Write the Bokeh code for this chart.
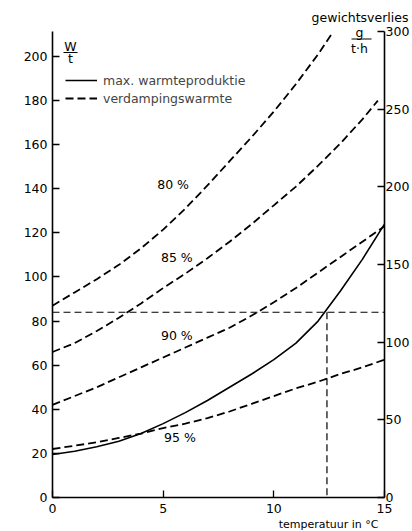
from bokeh.plotting import figure
from bokeh.models import (Range1d, LinearAxis, FixedTicker, Label, Legend,
                          LegendItem, BoxAnnotation, Title)
from bokeh.embed import file_html
from bokeh.resources import INLINE

# ---- data ----
temp = [0, 1, 2, 3, 4, 5, 6, 7, 8, 9, 10, 11, 12, 13, 14, 15]
max_warmte = [19.5, 21, 23, 25.5, 29, 33.5, 38.5, 44, 50, 56, 62.5, 70, 80, 93.5, 108, 124]

temp_80 = [0, 1, 2, 3, 4, 5, 6, 7, 8, 9, 10, 11, 12, 12.6]
rh_80 = [87, 93, 99, 105.5, 113, 121.5, 131, 141.5, 152.5, 163.5, 175, 187.5, 201, 210]

temp_85 = [0, 1, 2, 3, 4, 5, 6, 7, 8, 9, 10, 11, 12, 13, 14, 14.7]
rh_85 = [66, 70, 75.5, 81.5, 88, 95, 101.5, 108.5, 116, 124, 132.5, 141, 150.5, 160.5, 171.5, 180]

rh_90 = [42, 46, 50, 54.5, 59, 63.5, 68, 72.5, 77, 82.5, 88.5, 95, 102, 109, 116, 123]
rh_95 = [22, 23.5, 25, 27, 29, 31.5, 33.5, 36, 39, 42.5, 46, 49.5, 52.5, 56, 59, 62.5]

rh_labels = ["80 %", "85 %", "90 %", "95 %"]
rh_label_x = [4.73, 4.9, 4.9, 5.04]
rh_label_y = [142, 109, 73.6, 27]

ref_level = 84        # W/t
ref_temp = 12.4       # degC
x_range = (0, 15)
left_axis_top = 211.3
right_axis_top = 300
left_range = (0, 214.5)
right_range = (0, 304.5)
x_ticks = [0, 5, 10, 15]
left_ticks = [0, 20, 40, 60, 80, 100, 120, 140, 160, 180, 200]
right_ticks = [0, 50, 100, 150, 200, 250, 300]

FONT = "DejaVu Sans"
W, H = 412, 531

p = figure(width=W, height=H, output_backend="svg", toolbar_location=None,
           x_range=Range1d(*x_range), y_range=Range1d(*left_range),
           min_border_left=52, min_border_right=26, min_border_top=24,
           min_border_bottom=34, background_fill_color="white",
           border_fill_color="white")
p.outline_line_color = None
p.grid.visible = False
p.extra_y_ranges = {"right": Range1d(*right_range)}

def style_axis(ax, ticks):
    ax.ticker = FixedTicker(ticks=ticks)
    ax.axis_line_color = "black"
    ax.axis_line_width = 1.6
    ax.major_tick_line_color = "black"
    ax.major_tick_line_width = 1.3
    ax.major_tick_in = 7
    ax.major_tick_out = 0
    ax.minor_tick_line_color = None
    ax.major_label_text_font = FONT
    ax.major_label_text_font_size = "12.5px"
    ax.major_label_text_color = "black"

style_axis(p.xaxis[0], x_ticks)
p.xaxis[0].major_label_standoff = 6
style_axis(p.yaxis[0], left_ticks)
p.yaxis[0].major_label_standoff = 5
p.yaxis[0].bounds = (0, left_axis_top)

ax_r = LinearAxis(y_range_name="right")
style_axis(ax_r, right_ticks)
ax_r.major_label_standoff = 1
ax_r.bounds = (0, right_axis_top)
p.add_layout(ax_r, "right")

# ---- curves ----
r_solid = p.line(temp, max_warmte, line_color="black", line_width=1.6)
r80 = p.line(temp_80, rh_80, line_color="black", line_width=1.8, line_dash="8 4")
p.line(temp_85, rh_85, line_color="black", line_width=1.8, line_dash="8 4")
p.line(temp, rh_90, line_color="black", line_width=1.8, line_dash="8 4")
p.line(temp, rh_95, line_color="black", line_width=1.8, line_dash="8 4")

# reference lines
p.line([x_range[0], x_range[1]], [ref_level, ref_level], line_color="black",
       line_width=1.2, line_dash="7 4")
p.line([ref_temp, ref_temp], [ref_level, 0], line_color="black",
       line_width=1.2, line_dash="7 4")

for t, xx, yy in zip(rh_labels, rh_label_x, rh_label_y):
    p.add_layout(Label(x=xx, y=yy, text=t, text_font=FONT, text_font_size="12.5px",
                       text_align="left", text_baseline="middle", text_color="black"))

legend = Legend(items=[LegendItem(label="max. warmteproduktie", renderers=[r_solid]),
                       LegendItem(label="verdampingswarmte", renderers=[r80])],
                location=(13, 390), margin=0, padding=0, spacing=0,
                glyph_width=32, glyph_height=18, label_height=18,
                label_standoff=6, label_text_font=FONT,
                label_text_font_size="12.5px", border_line_color=None,
                background_fill_alpha=0)
p.add_layout(legend)

def slabel(x, y, text, align="center", size="12.5px"):
    p.add_layout(Label(x=x, y=y, x_units="screen", y_units="screen", text=text,
                       text_font=FONT, text_font_size=size, text_align=align,
                       text_baseline="middle", text_color="black"))

def sbar(l, r, y):
    p.add_layout(BoxAnnotation(left=l, right=r, bottom=y - 0.6, top=y + 0.6,
                               left_units="screen", right_units="screen",
                               bottom_units="screen", top_units="screen",
                               fill_color="black", fill_alpha=1, line_color=None))

# W/t unit
slabel(18, 451, "W")
sbar(11, 25, 445)
slabel(18, 439.5, "t")

# g/(t·h) unit
slabel(307, 465, "g")
sbar(299, 319, 458.5)
slabel(307, 449, "t·h")

p.add_layout(Title(text="gewichtsverlies", align="right", offset=-24, standoff=0,
                   text_font=FONT, text_font_size="12.5px", text_font_style="normal",
                   text_color="black"), "above")
p.add_layout(Title(text="temperatuur in °C", align="right", offset=6, standoff=0,
                   text_font=FONT, text_font_size="11px", text_font_style="normal",
                   text_color="black"), "below")

open("out.html", "w").write(file_html(p, INLINE))
